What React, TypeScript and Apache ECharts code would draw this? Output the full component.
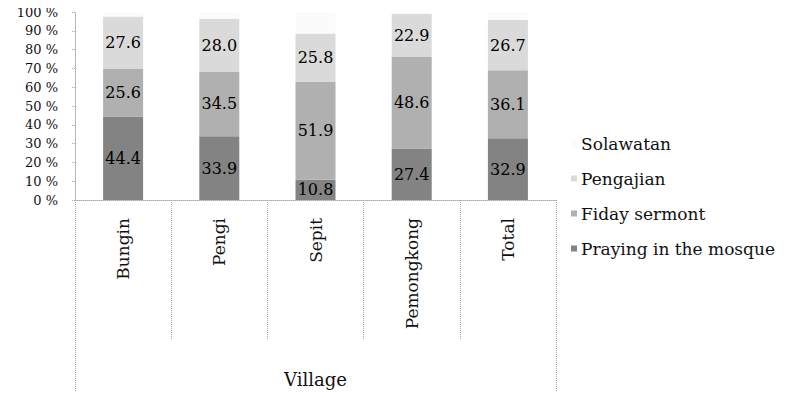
import React, { useEffect, useRef } from "react";
import * as echarts from "echarts";

// Villages on the category axis
const villages = ["Bungin", "Pengi", "Sepit", "Pemongkong", "Total"];

// Share of respondents (%) per activity, stacked bottom to top
const prayingInMosque = [44.4, 33.9, 10.8, 27.4, 32.9];
const fridaySermon = [25.6, 34.5, 51.9, 48.6, 36.1];
const pengajian = [27.6, 28.0, 25.8, 22.9, 26.7];
const solawatan = [2.4, 3.6, 11.5, 1.1, 4.3];

const groupLabel = ["Village"];
const legendOrder = ["Solawatan", "Pengajian", "Fiday sermont", "Praying in the mosque"];

const FONT = "DejaVu Serif";
const DOTTED = { color: "#a8a8a8", type: "dotted" as const, width: 1 };

export default function App() {
  const ref = useRef<HTMLDivElement>(null);

  useEffect(() => {
    if (!ref.current) return;
    const chart = echarts.init(ref.current, undefined, { renderer: "svg" });

    const segLabel = {
      show: true,
      position: "inside" as const,
      color: "#000",
      fontFamily: FONT,
      fontSize: 16,
      formatter: (p: any) => Number(p.value).toFixed(1),
    };

    const bar = (name: string, data: number[], color: string, labelled: boolean) => ({
      name,
      type: "bar" as const,
      stack: "share",
      barWidth: 40,
      data,
      itemStyle: { color },
      label: labelled ? segLabel : { show: false },
      emphasis: { disabled: true },
    });

    chart.setOption({
      animation: false,
      backgroundColor: "#fff",
      textStyle: { fontFamily: FONT },
      grid: { left: 75, right: 239, top: 12, bottom: 199 },
      legend: {
        orient: "vertical",
        left: 566,
        top: 128,
        itemWidth: 6,
        itemHeight: 6,
        itemGap: 14,
        itemStyle: { borderWidth: 0 },
        textStyle: { fontFamily: FONT, fontSize: 17, color: "#111", lineHeight: 21, padding: [0, 0, 0, -1] },
        icon: "rect",
        data: legendOrder,
      },
      xAxis: [
        {
          type: "category",
          data: villages,
          position: "bottom",
          axisLine: { show: true, lineStyle: DOTTED },
          axisTick: { show: true, interval: 0, length: 140, lineStyle: DOTTED },
          axisLabel: {
            rotate: 90,
            margin: 18,
            interval: 0,
            color: "#111",
            fontFamily: FONT,
            fontSize: 17,
          },
        },
        {
          type: "category",
          data: groupLabel,
          position: "bottom",
          offset: 0,
          axisLine: { show: false },
          axisTick: { show: true, length: 199, lineStyle: DOTTED },
          axisLabel: { margin: 170, color: "#111", fontFamily: FONT, fontSize: 18 },
        },
      ],
      yAxis: {
        type: "value",
        min: 0,
        max: 100,
        interval: 10,
        splitLine: { show: false },
        axisLine: { show: true, lineStyle: DOTTED },
        axisTick: { show: true, length: 3, lineStyle: DOTTED },
        axisLabel: {
          formatter: "{value} %",
          margin: 17,
          color: "#111",
          fontFamily: FONT,
          fontSize: 13,
        },
      },
      series: [
        bar("Praying in the mosque", prayingInMosque, "#838383", true),
        bar("Fiday sermont", fridaySermon, "#b0b0b0", true),
        bar("Pengajian", pengajian, "#dadada", true),
        bar("Solawatan", solawatan, "#fbfbfb", false),
      ],
    });

    return () => chart.dispose();
  }, []);

  return <div ref={ref} style={{ width: 795, height: 399, margin: -8 }} />;
}
